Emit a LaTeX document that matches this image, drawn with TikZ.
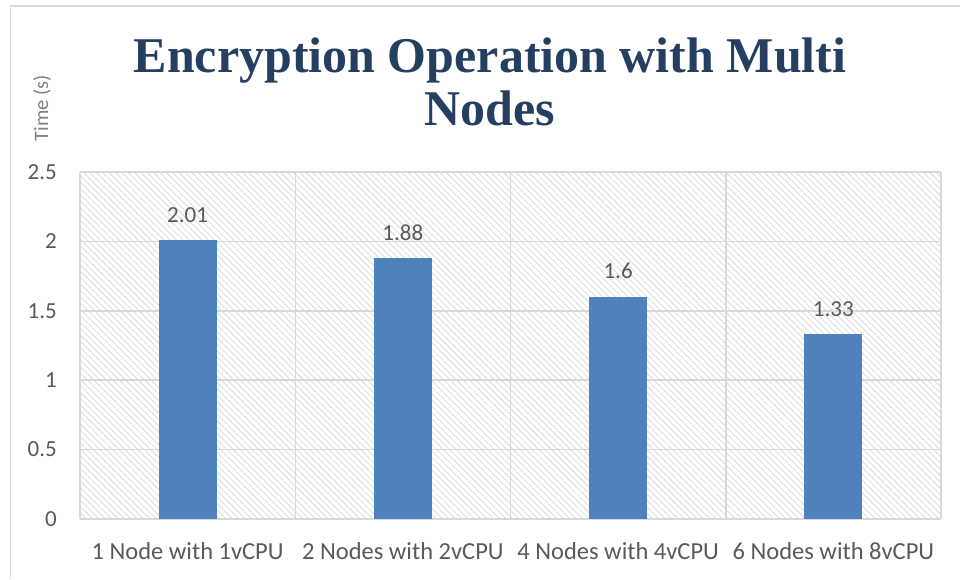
\documentclass[tikz,border=0pt]{standalone}
\usepackage{fontspec}
\setmainfont{Carlito}
\newfontfamily\titolofont{Liberation Serif}
\usepackage{xcolor}
\usetikzlibrary{patterns.meta}
\definecolor{barra}{HTML}{4F81BD}
\definecolor{titolo}{HTML}{243F60}
\definecolor{griglia}{HTML}{D9D9D9}
\definecolor{testo}{HTML}{595959}
\definecolor{asse}{HTML}{808080}
\tikzset{
  etichetta/.style = {text=testo, font=\fontsize{23}{27}\selectfont, inner sep=0pt},
  categoria/.style = {text=testo, font=\fontsize{24.5}{28}\selectfont, inner sep=0pt},
  linea/.style = {griglia, line width=1.5pt},
}

\begin{document}
\begin{tikzpicture}[x=1pt, y=-1pt]
    % Parametri
    \pgfmathsetmacro{\xmin}{80}
    \pgfmathsetmacro{\xmax}{941}
    \pgfmathsetmacro{\yzero}{519}
    \pgfmathsetmacro{\unita}{138.8}
    \pgfmathsetmacro{\cat}{(\xmax-\xmin)/4}
    \pgfmathsetmacro{\mezza}{29}
    \useasboundingbox (0,0) rectangle (960,579);
    % Cornice
    \draw[linea] (10.5,579) -- (10.5,6) -- (960,6);
    % Sfondo tratteggiato
    \fill[pattern={Lines[angle=-45, distance=4.5pt, line width=0.8pt]}, pattern color=griglia] (\xmin,\yzero) rectangle (\xmax,{\yzero-2.5*\unita});
    % Griglia
    \foreach \k in {0,...,5}
        \draw[linea] (\xmin,{\yzero-\k*0.5*\unita}) -- (\xmax,{\yzero-\k*0.5*\unita});
    \foreach \i in {0,...,4}
        \draw[linea] ({\xmin+\i*\cat},\yzero) -- ({\xmin+\i*\cat},{\yzero-2.5*\unita});
    % Asse y
    \foreach \v [count=\k] in {0,0.5,1,1.5,2,2.5}
        \node[etichetta, anchor=east] (y\k) at (57,{\yzero-\v*\unita}) {\v};
    \node[text=asse, font=\fontsize{20.5}{24}\selectfont, rotate=90, inner sep=0pt] (nomey) at (42,108) {Time (s)};
    % Barre
    \foreach \v/\nome [count=\i] in {2.01/1 Node with 1vCPU, 1.88/2 Nodes with 2vCPU, 1.6/4 Nodes with 4vCPU, 1.33/6 Nodes with 8vCPU}{
        \pgfmathsetmacro{\cx}{\xmin+(\i-0.5)*\cat}
        \pgfmathsetmacro{\cima}{\yzero-\v*\unita}
        \fill[barra] ({\cx-\mezza},\yzero) rectangle ({\cx+\mezza},\cima);
        \node[etichetta, anchor=base] (val\i) at (\cx,{\cima-18}) {\v};
        \node[categoria] (cat\i) at (\cx,551) {\nome};
    }
    % Titolo
    \node[text=titolo, font=\titolofont\bfseries\fontsize{50}{53}\selectfont, anchor=base, inner sep=0pt] (titolo1) at (490,72) {Encryption Operation with Multi};
    \node[text=titolo, font=\titolofont\bfseries\fontsize{50}{53}\selectfont, anchor=base, inner sep=0pt] (titolo2) at (490,125) {Nodes};
\end{tikzpicture}
\end{document}
